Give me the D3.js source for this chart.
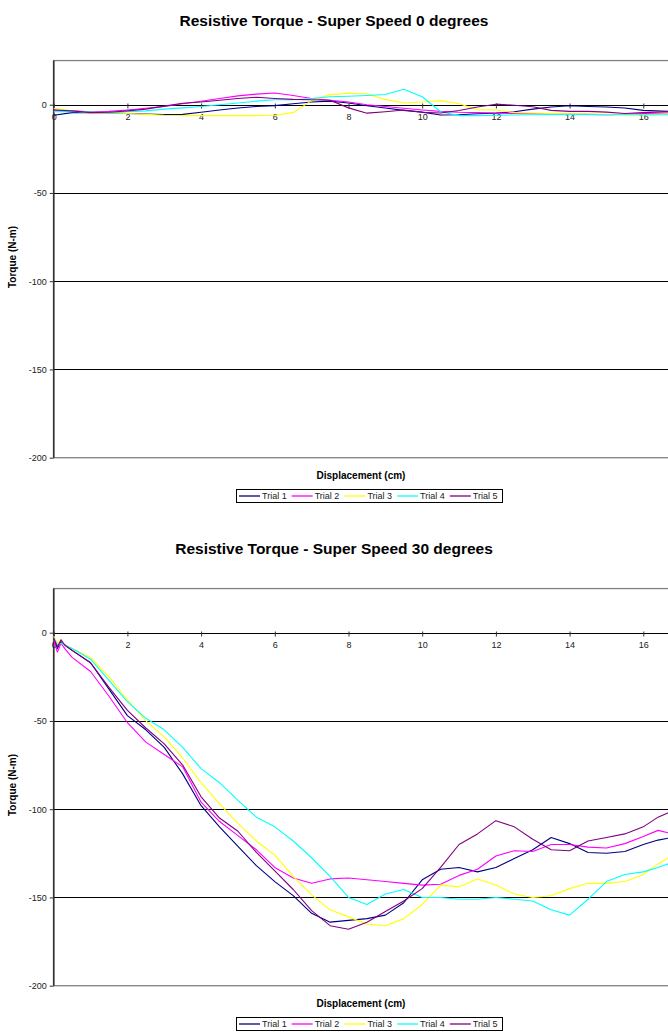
<!DOCTYPE html>
<html>
<head>
<meta charset="utf-8">
<script src="https://cdn.jsdelivr.net/npm/d3@7"></script>
<style>
  html, body { margin: 0; padding: 0; background: #fff; }
  svg { display: block; }
  text { font-family: "Liberation Sans", Arial, sans-serif; }
</style>
</head>
<body>
<svg id="chart" width="668" height="1032"></svg>
<script>
// ---------- DATA ----------
const trialNames = ["Trial 1", "Trial 2", "Trial 3", "Trial 4", "Trial 5"];
const xTicks = [0, 2, 4, 6, 8, 10, 12, 14, 16];
const yTicks = [0, -50, -100, -150, -200];

// Chart 1: Super Speed 0 degrees
const disp0 = [0,0.5,1,1.5,2,2.5,3,3.5,4,4.5,5,5.5,6,6.5,7,7.5,8,8.5,9,9.5,10,10.5,11,11.5,12,12.5,13,13.5,14,14.5,15,15.5,16,16.8];
const s0_trial1 = [-6,-4.5,-4.5,-4.7,-5,-5.3,-5.6,-5.5,-4.3,-3,-1.9,-1,-0.5,0.5,1.5,2,1,-0.6,-1.9,-3.2,-4.2,-5.8,-5.7,-5.1,-4.8,-4,-2.5,-1.3,-0.6,-1,-1.3,-1.9,-3.2,-3.8];
const s0_trial2 = [-3,-3.5,-4,-3.8,-3,-2,-1,0.5,2,3.5,5,6,6.6,5.2,3.5,2.5,1.5,0,-1,-2,-3,-3.8,-4.3,-4.5,-4.7,-5,-5.1,-5.2,-5.3,-5.5,-5.7,-5.5,-5,-4.7];
const s0_trial3 = [-2,-3.5,-4.5,-4.7,-5,-5.5,-6,-6.2,-6.2,-6.2,-6.2,-6.2,-6,-4.5,2.3,5.7,6.5,6.2,3,1,1.5,2.3,0.5,-2.8,-3,-4.5,-4.7,-5,-5.2,-5.3,-5.5,-5.7,-5.7,-5];
const s0_trial4 = [-4,-3.8,-4.2,-4.5,-4,-3.5,-2.5,-1.8,-1,0,1,2,2.8,2.8,3.5,4.5,4.8,5.2,5.8,8.8,4.5,-4,-6.2,-6.2,-6,-5.8,-5.7,-5.7,-5.7,-5.7,-5.7,-5.7,-5.8,-5.7];
const s0_trial5 = [-3,-3.5,-4.5,-4.3,-3.5,-2.5,-0.8,0.8,1.5,2.5,3.5,4.2,3.5,3,2.8,2.5,-1.8,-4.8,-4,-3,-4.3,-4.7,-3.3,-1.3,0.3,-0.3,-1.2,-3.2,-3.8,-3.8,-4.2,-5,-4.5,-3.8];

// Chart 2: Super Speed 30 degrees
const disp30 = [0,0.1,0.2,0.3,0.5,1,1.5,2,2.5,3,3.5,4,4.5,5,5.5,6,6.5,7,7.5,8,8.5,9,9.5,10,10.5,11,11.5,12,12.5,13,13.5,14,14.5,15,15.5,16,16.4,16.8];
const s30_trial1 = [-3,-9,-5,-7,-10,-17,-32,-47,-55,-65,-80,-98,-110,-121,-132,-141,-149,-159,-164,-163,-162,-160,-153,-140,-134,-133,-135.5,-133,-128,-123,-116,-119.5,-124.5,-125,-124,-120,-117.5,-116];
const s30_trial2 = [-4,-11,-6,-9,-14,-22,-36,-51,-62,-69,-76,-96,-107,-115,-123,-133,-139,-142,-139.5,-139,-140,-141,-142,-143,-142.5,-137.5,-134,-126.5,-123.5,-124,-120,-120,-121.5,-122,-119.5,-115.5,-112,-114];
const s30_trial3 = [-2,-6,-4,-7,-9,-14,-25,-38,-50,-59,-71,-85,-97,-108,-118,-126,-138,-148.5,-157,-161,-165,-166,-162,-154,-143,-144,-139.5,-143,-148,-150,-149,-145,-142,-142,-141,-137,-131,-126];
const s30_trial4 = [-3,-7,-6,-7,-9,-15,-27,-39,-48.5,-55,-65,-77,-85,-95,-104.5,-110,-118,-127.5,-138,-150,-154,-148,-145.5,-150,-150,-151,-151,-150,-151,-152,-157,-160,-151,-141,-137,-135.5,-133,-130];
const s30_trial5 = [-3,-8,-4,-7,-10,-17,-31,-44,-54,-63,-75,-93,-105,-112.5,-124.5,-135,-145.5,-157.5,-166,-168,-164,-158,-152,-145,-133,-120,-114,-106.5,-110,-117,-123,-123.5,-118,-116,-114,-110,-104.5,-101];

const charts = [
  { title: "Resistive Torque - Super Speed 0 degrees", disp: disp0,
    series: [s0_trial1, s0_trial2, s0_trial3, s0_trial4, s0_trial5], offset: 0 },
  { title: "Resistive Torque - Super Speed 30 degrees", disp: disp30,
    series: [s30_trial1, s30_trial2, s30_trial3, s30_trial4, s30_trial5], offset: 528 }
];

// ---------- STYLE ----------
const colors = ["#000080", "#FF00FF", "#FFFF00", "#00FFFF", "#800080"];
const fmt = d => String(d);

const svg = d3.select("#chart");

charts.forEach((c, ci) => {
  const g = svg.append("g").attr("transform", `translate(0,${c.offset})`);
  const x = d3.scaleLinear().domain([0, 18]).range([53.7, 53.7 + 18 * 36.85]);
  const y = d3.scaleLinear().domain([-200, 25]).range([457.7, 457.7 - 225 * 1.765]);

  // title
  g.append("text").attr("x", 334).attr("y", 26)
    .attr("text-anchor", "middle").attr("font-size", 15.5).attr("font-weight", "bold")
    .text(c.title);

  // plot border (top/right/bottom gray)
  g.append("rect")
    .attr("x", x(0)).attr("y", y(25)).attr("width", x(18) - x(0)).attr("height", y(-200) - y(25))
    .attr("fill", "#fff").attr("stroke", "#808080").attr("stroke-width", 1.3);

  // gridlines
  g.selectAll(".grid").data(yTicks.filter(v => v !== -200)).enter().append("line")
    .attr("x1", x(0)).attr("x2", x(18))
    .attr("y1", d => Math.round(y(d)) + 0.5).attr("y2", d => Math.round(y(d)) + 0.5)
    .attr("stroke", "#000").attr("stroke-width", 1);

  // y axis
  const yAxis = d3.axisLeft(y).tickValues(yTicks).tickSize(4).tickPadding(3).tickFormat(fmt);
  const ya = g.append("g").attr("transform", `translate(${x(0)},0)`).call(yAxis);
  ya.select(".domain").remove();
  ya.append("line").attr("x1", 0).attr("x2", 0).attr("y1", y(25)).attr("y2", y(-200))
    .attr("stroke", "#333").attr("stroke-width", 1.6);
  ya.selectAll("text").attr("font-size", 9).attr("fill", "#222")
    .attr("font-family", "'Liberation Sans', Arial, sans-serif");
  ya.selectAll(".tick line").attr("stroke", "#333");

  // x axis at y = 0
  const xAxis = d3.axisBottom(x).tickValues(xTicks).tickSize(3).tickPadding(5).tickFormat(fmt);
  const xa = g.append("g").attr("transform", `translate(0,${Math.round(y(0)) + 0.5})`).call(xAxis);
  xa.select(".domain").remove();
  xa.selectAll(".tick line").attr("y1", -2).attr("stroke", "#333");
  xa.selectAll("text").attr("font-size", 9).attr("fill", "#222")
    .attr("font-family", "'Liberation Sans', Arial, sans-serif");

  // series lines
  const line = d3.line().x(d => x(d[0])).y(d => y(d[1]));
  c.series.forEach((s, si) => {
    const pts = c.disp.map((dv, i) => [dv, s[i]]);
    g.append("path").datum(pts).attr("d", line)
      .attr("fill", "none").attr("stroke", colors[si]).attr("stroke-width", 1.1)
      .attr("stroke-linejoin", "round");
  });

  // axis titles
  g.append("text").attr("transform", `translate(16,${257}) rotate(-90)`)
    .attr("text-anchor", "middle").attr("font-size", 10).attr("font-weight", "bold")
    .text("Torque (N-m)");
  g.append("text").attr("x", 361).attr("y", 478.5)
    .attr("text-anchor", "middle").attr("font-size", 10).attr("font-weight", "bold")
    .text("Displacement (cm)");

  // legend
  const lg = g.append("g").attr("transform", "translate(236,489)");
  lg.append("rect").attr("x", 0.5).attr("y", 0.5).attr("width", 266).attr("height", 13)
    .attr("fill", "#fff").attr("stroke", "#000").attr("stroke-width", 1);
  trialNames.forEach((name, i) => {
    const ox = 3 + i * 52.7;
    lg.append("line").attr("x1", ox).attr("x2", ox + 21).attr("y1", 7).attr("y2", 7)
      .attr("stroke", colors[i]).attr("stroke-width", 1.3);
    lg.append("text").attr("x", ox + 23).attr("y", 10.3).attr("font-size", 9).attr("fill", "#222")
      .text(name);
  });
});
</script>
</body>
</html>
